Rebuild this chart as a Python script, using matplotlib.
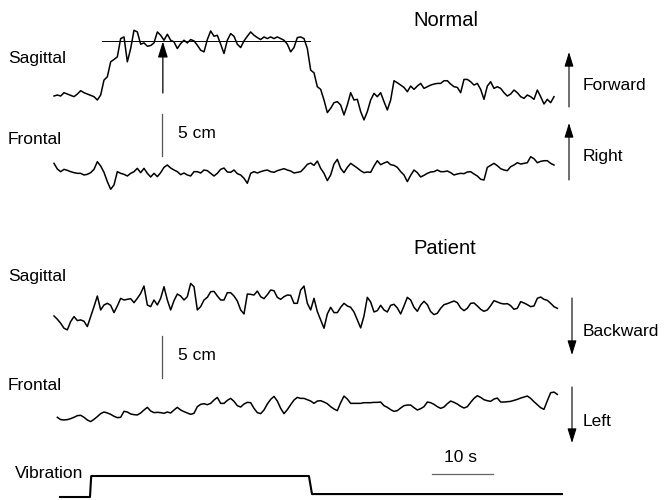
import numpy as np
import matplotlib
matplotlib.use("Agg")
import matplotlib.pyplot as plt

# ---------------- data (time step DT seconds, displacement in mm) ----------------
DT = 0.542  # seconds per sample

normal_sagittal = [
    4.8, 6.0, 4.8, 8.8, 7.2, 5.6, 4.0, 7.2, 11.2, 8.8,
    7.2, 5.6, 4.0, 0.0, 6.0, 24.0, 28.0, 46.0, 48.8, 52.0,
    74.0, 76.0, 46.0, 62.0, 84.0, 82.0, 67.2, 68.8, 64.8, 65.6,
    68.8, 82.0, 78.0, 72.0, 79.2, 72.0, 70.0, 62.0, 68.0, 72.0,
    68.8, 72.8, 71.2, 66.0, 60.0, 58.0, 72.8, 83.2, 76.8, 78.0,
    67.2, 56.0, 72.0, 80.0, 76.8, 67.2, 63.2, 71.2, 76.8, 82.0,
    78.0, 75.2, 72.8, 76.0, 74.0, 76.0, 74.0, 76.0, 74.0, 72.0,
    67.2, 58.0, 63.2, 75.2, 76.0, 74.0, 62.0, 36.0, 32.8, 16.0,
    12.8, 0.0, -15.2, -10.0, -3.2, -2.0, -6.0, -18.0, -6.0, 8.8,
    0.0, 0.8, -14.0, -24.0, -14.0, 0.0, 8.0, 4.0, 8.8, -2.0,
    -12.0, 0.0, 23.2, 20.8, 18.0, 15.2, 10.0, 16.8, 12.8, 16.8,
    20.0, 14.0, 16.0, 18.0, 19.2, 20.0, 20.0, 23.2, 23.2, 19.2,
    16.0, 15.2, 8.8, 24.8, 24.8, 22.0, 18.0, 20.0, 12.8, 0.8,
    16.8, 22.0, 14.0, 16.0, 14.0, 8.8, 4.8, 7.2, 12.0, 8.8,
    4.0, 2.0, 6.0, 4.0, 0.8, 12.0, 4.0, -4.8, 0.8, -3.2,
    4.0]

normal_frontal = [
    10.4, 3.6, 0.4, 3.2, 2.0, 0.4, -0.8, -1.6, -1.6, -3.6,
    -2.8, -0.8, 3.2, 12.4, 7.2, -0.4, -11.6, -20.8, -15.6, 0.4,
    -1.6, -2.8, -4.8, -1.6, 0.4, 4.4, -0.8, 4.4, -1.6, -6.0,
    -1.6, -5.6, -0.8, 5.6, 8.4, 4.8, 2.4, 0.4, -3.2, -1.2,
    -3.6, -4.8, 0.4, 0.4, -1.2, 2.4, 1.6, -1.6, -4.8, -1.6,
    3.2, 4.8, 0.0, -0.4, 2.4, -2.0, -3.6, -7.6, -13.6, -1.6,
    0.4, -1.2, 0.4, 1.6, 2.4, 0.4, -0.4, 1.6, 2.8, 4.0,
    2.4, 1.2, -1.2, -0.4, 0.4, 4.4, 9.2, 10.8, 8.0, 13.2,
    4.4, -1.6, -10.4, -3.6, 9.6, 15.2, 4.4, -0.8, 5.6, 10.4,
    7.6, 4.8, 1.6, -0.8, 0.0, -0.4, 7.2, 13.6, 8.8, 10.8,
    12.4, 8.8, 8.0, 5.6, 0.4, -3.6, -11.6, -4.0, 2.4, -0.8,
    -6.0, -4.0, -1.6, 0.0, 0.4, 2.4, 0.4, 0.4, 1.2, -0.8,
    -3.6, -2.4, -1.6, -2.0, 0.0, 0.4, -2.4, -4.8, -8.8, -9.6,
    5.6, 8.0, 10.4, 7.6, 4.0, 2.4, 1.6, 6.4, 8.4, 11.2,
    9.6, 10.4, 11.2, 18.4, 16.0, 11.2, 12.8, 13.6, 13.6, 10.4,
    8.4]

patient_sagittal = [
    -19.2, -23.2, -28.0, -34.0, -36.0, -26.0, -20.0, -24.8, -24.0, -25.6,
    -32.0, -20.0, -8.0, 4.8, -12.0, -6.0, -4.0, -6.4, -15.2, -7.2,
    2.0, 0.0, 0.8, 1.6, -3.2, 2.0, 8.0, 16.8, -6.0, -8.0,
    0.0, -6.0, 2.0, 16.0, 0.0, -12.0, -0.8, 7.2, 4.8, 0.0,
    4.0, 20.0, 16.0, -12.0, -8.0, 0.0, 3.2, 10.0, 10.4, 4.8,
    0.0, 0.0, 8.8, 8.8, 4.8, -1.2, -12.0, -16.8, 7.2, 6.8,
    6.0, 10.8, 4.0, 1.6, 6.4, 12.0, 11.2, 3.2, 0.8, 4.0,
    6.0, 5.6, -4.0, -4.0, 12.0, 16.8, -4.0, -12.0, 2.0, -14.0,
    -24.0, -34.0, -16.8, -8.8, -15.2, -15.2, -8.8, -4.0, -7.2, -8.8,
    -14.4, -24.0, -33.6, -19.2, 3.2, -2.4, -14.4, -12.8, -6.4, -12.0,
    -14.4, -6.4, -5.2, -9.6, -16.8, -7.2, 3.2, 0.0, -8.8, -13.6,
    -6.0, -1.6, -5.6, -14.0, -17.6, -16.0, -10.0, -5.6, -4.4, -2.8,
    -1.2, -3.2, -9.6, -12.8, -10.0, -4.0, -3.6, -7.2, -11.2, -13.6,
    -12.0, -6.8, -0.8, -2.4, -4.0, -4.8, -4.4, -6.8, -11.2, -10.0,
    -2.0, -3.6, -5.6, -8.0, -7.2, 2.0, 3.6, 0.8, -0.4, -4.0,
    -8.0, -10.0]

patient_frontal_start = 1  # first sample index of the patient frontal trace
patient_frontal = [
    -8.8, -11.6, -12.0, -11.6, -10.4, -8.8, -6.8, -6.4, -8.8, -12.0,
    -14.0, -11.2, -8.0, -4.4, -2.4, -3.6, -5.2, -7.6, -9.2, -8.8,
    -1.6, -2.4, -4.8, -5.6, -6.0, -3.6, 0.0, 3.2, -1.2, -3.2,
    -2.8, -3.2, -4.0, -2.4, -3.6, 0.0, 3.2, 0.0, -2.0, -3.6,
    -5.2, -4.0, 4.0, 6.8, 7.6, 6.4, 8.0, 12.0, 15.2, 8.0,
    8.0, 11.6, 14.0, 10.4, 5.2, 3.6, 7.2, 9.2, 8.8, 2.0,
    -3.2, -4.4, 0.0, 7.2, 12.8, 16.4, 10.8, 2.0, -4.4, 0.4,
    6.4, 12.0, 15.2, 14.0, 14.0, 12.4, 10.8, 8.0, 10.8, 11.2,
    9.6, 7.6, 4.0, 1.2, -0.8, 8.8, 16.8, 13.2, 8.0, 8.0,
    8.0, 8.0, 8.8, 8.8, 8.8, 9.2, 9.2, 9.6, 5.2, 3.2,
    0.4, -1.6, -0.8, 2.4, 5.2, 6.0, 6.0, 2.8, 0.0, 1.6,
    4.0, 9.6, 8.8, 6.8, 4.0, 2.0, 3.6, 7.6, 10.8, 9.2,
    7.2, 4.4, 2.4, 4.0, 9.2, 14.0, 17.2, 15.2, 12.4, 11.2,
    10.4, 13.2, 14.4, 9.6, 9.6, 10.0, 10.4, 11.6, 12.8, 14.4,
    15.6, 16.8, 14.0, 10.0, 6.4, 2.8, 0.8, 11.2, 20.8, 21.6,
    18.8]

# vibration on/off signal
vib_t = [0.98, 5.85, 6.05, 41.45, 41.95, 82.6]
vib_state = [0.0, 0.0, 1.0, 1.0, 0.14, 0.14]

# normal sagittal reference level and vibration-onset arrow
ref_level_mm = 71.0
ref_t = [7.8, 41.6]
arrow_t = 17.7
arrow_mm = [8.4, 70.5]

scale_cm = 5      # vertical scale bar (cm)
scale_s = 10      # horizontal scale bar (s)

# ---------------- layout ----------------
W, H = 666, 500
X0 = 54.0          # px of t = 0
PX_PER_S = 6.15
PX_PER_MM = 0.83

FONT = ["Liberation Sans", "DejaVu Sans"]

fig = plt.figure(figsize=(W / 100, H / 100), dpi=100)
ax = fig.add_axes([0, 0, 1, 1])
ax.set_xlim(-X0 / PX_PER_S, (W - X0) / PX_PER_S)
ax.set_ylim(-H / PX_PER_MM, 0)
ax.axis("off")


def base(ypx):
    return -ypx / PX_PER_MM


def fx(x):
    return x / W


def fy(y):
    return 1 - y / H


def trace(vals, ybase, start=0):
    v = np.asarray(vals, dtype=float)
    t = DT * (start + np.arange(len(v)))
    ax.plot(t, base(ybase) + v, color="black", lw=1.1, solid_joinstyle="round")


trace(normal_sagittal, 100)
trace(normal_frontal, 172)
trace(patient_sagittal, 300)
trace(patient_frontal, 410, patient_frontal_start)

# reference line + arrow (normal sagittal)
ax.plot(ref_t, [base(100) + ref_level_mm] * 2, color="black", lw=0.7)
ax.annotate("", xy=(arrow_t, base(100) + arrow_mm[1]),
            xytext=(arrow_t, base(100) + arrow_mm[0]),
            arrowprops=dict(arrowstyle="-|>,head_length=0.8,head_width=0.25",
                            color="black", lw=0.9, mutation_scale=12,
                            shrinkA=0, shrinkB=0))

# 5 cm scale bars
for ybot in (156, 378):
    ax.plot([17.6, 17.6], [base(ybot), base(ybot) + scale_cm * 10],
            color="#555555", lw=0.9)

# 10 s bar
ax.plot([61.45, 61.45 + scale_s], [base(474)] * 2, color="#666666", lw=0.9)

# vibration signal
ax.plot(vib_t, base(497) + 25.3 * np.asarray(vib_state), color="black", lw=1.5)

# right-side direction arrows (figure pixels)
def dir_arrow(x, ytail, ytip):
    ax.annotate("", xy=(fx(x), fy(ytip)), xytext=(fx(x), fy(ytail)),
                xycoords="figure fraction", textcoords="figure fraction",
                arrowprops=dict(arrowstyle="-|>,head_length=0.8,head_width=0.25",
                                color="black", lw=0.8, mutation_scale=11,
                                shrinkA=0, shrinkB=0))

dir_arrow(569, 107, 52)
dir_arrow(569, 180, 123)
dir_arrow(572, 298, 355)
dir_arrow(572, 387, 443)

# texts
def label(x, y, s, size=12.5):
    fig.text(fx(x), fy(y), s, ha="left", va="center", fontsize=size, family=FONT)

label(413, 20, "Normal", 14.5)
label(413, 248, "Patient", 14.5)
label(8, 59, "Sagittal")
label(8, 140, "Frontal")
label(8, 276, "Sagittal")
label(8, 385, "Frontal")
label(178, 133, "5 cm")
label(178, 355, "5 cm")
label(583, 86, "Forward")
label(583, 156, "Right")
label(583, 331, "Backward")
label(583, 421, "Left")
label(444, 458, "10 s")
label(15, 473, "Vibration")

fig.savefig("out.png", dpi=100)
